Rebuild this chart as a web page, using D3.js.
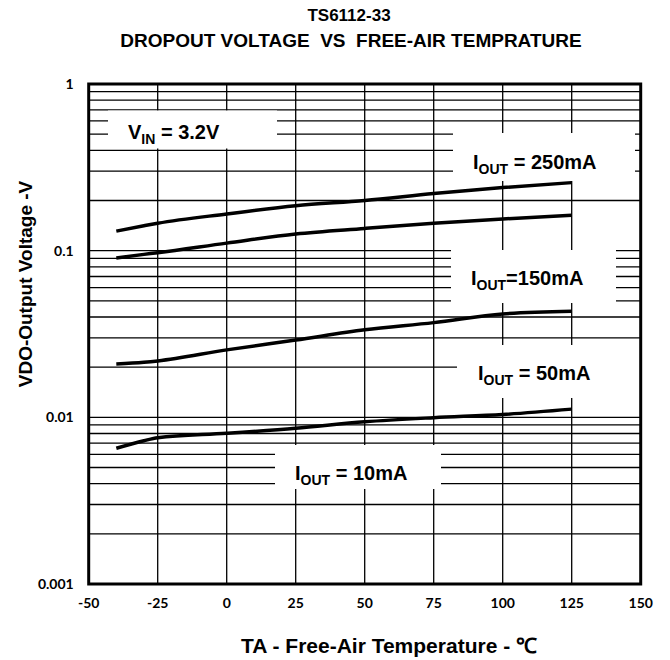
<!DOCTYPE html>
<html>
<head>
<meta charset="utf-8">
<script src="https://cdn.jsdelivr.net/npm/d3@7"></script>
<style>
  body { margin: 0; background: #fff; }
  svg text { fill: #000; }
</style>
</head>
<body>
<div id="graph"></div>
<script>
const width = 670, height = 660;

// temperatures (degC)
const temps = [-40, -30, -25, 0, 25, 50, 75, 100, 125];
// dropout voltage (V) per load current
const iout250 = [0.131, 0.141, 0.146, 0.166, 0.186, 0.200, 0.220, 0.239, 0.256];
const iout150 = [0.0904, 0.095, 0.0973, 0.111, 0.126, 0.136, 0.146, 0.155, 0.163];
const iout50  = [0.0209, 0.0214, 0.0218, 0.0254, 0.0291, 0.0335, 0.0370, 0.0417, 0.0433];
const iout10  = [0.00652, 0.00724, 0.00755, 0.00802, 0.0086, 0.0094, 0.00995, 0.0104, 0.0112];

const xTicks = [-50, -25, 0, 25, 50, 75, 100, 125, 150];
const yTicks = [0.001, 0.01, 0.1, 1];
const yTickLabels = ["0.001", "0.01", "0.1", "1"];

const series = [iout250, iout150, iout50, iout10];

const margin = {left: 88.7, right: 29.3, top: 84, bottom: 76};
const pw = width - margin.left - margin.right,
      ph = height - margin.top - margin.bottom;

const x = d3.scaleLinear().domain([-50, 150]).range([0, pw]);
const y = d3.scaleLog().domain([0.001, 1]).range([ph, 0]);

const svg = d3.select("#graph")
  .append("svg")
  .attr("width", width)
  .attr("height", height);

const g = svg.append("g")
  .attr("transform", `translate(${margin.left},${margin.top})`);

// grid
const minor = [];
[0.001, 0.01, 0.1].forEach(d => { for (let k = 2; k <= 9; k++) minor.push(d * k); });
g.append("g").selectAll("line")
  .data(minor.concat([0.01, 0.1]))
  .join("line")
    .attr("x1", 0).attr("x2", pw)
    .attr("y1", d => y(d)).attr("y2", d => y(d))
    .attr("stroke", "#000").attr("stroke-width", 1.3);
g.append("g").selectAll("line")
  .data(xTicks.slice(1, -1))
  .join("line")
    .attr("x1", d => x(d)).attr("x2", d => x(d))
    .attr("y1", 0).attr("y2", ph)
    .attr("stroke", "#000").attr("stroke-width", 1.3);

// label boxes (pixel layout inside the plot)
const labels = [
  {box: [19.3, 26.5, 169, 38], tx: 39.3, ty: 55, main: "V", sub: "IN", rest: " = 3.2V"},
  {box: [364.3, 49, 182, 48], tx: 384.3, ty: 85, main: "I", sub: "OUT", rest: " = 250mA"},
  {box: [362.3, 166, 165, 53], tx: 382.3, ty: 201, main: "I", sub: "OUT", rest: "=150mA"},
  {box: [368.3, 261, 183.7, 53], tx: 389.3, ty: 296, main: "I", sub: "OUT", rest: " = 50mA"},
  {box: [186.3, 361, 166, 44], tx: 206.3, ty: 396, main: "I", sub: "OUT", rest: " = 10mA"}
];
const lab = g.append("g").selectAll("g").data(labels).join("g");
lab.append("rect")
  .attr("x", d => d.box[0]).attr("y", d => d.box[1])
  .attr("width", d => d.box[2]).attr("height", d => d.box[3])
  .attr("fill", "#fff");
const lt = lab.append("text")
  .attr("x", d => d.tx).attr("y", d => d.ty)
  .style("font", "bold 20px 'Liberation Sans', Arial, sans-serif");
lt.append("tspan").text(d => d.main);
lt.append("tspan").attr("dy", 5).style("font-size", "14px").text(d => d.sub);
lt.append("tspan").attr("dy", -5).text(d => d.rest);

// curves
const line = d3.line()
  .x((d, i) => x(temps[i]))
  .y(d => y(d))
  .curve(d3.curveMonotoneX);
g.append("g").selectAll("path")
  .data(series)
  .join("path")
    .attr("d", line)
    .attr("fill", "none")
    .attr("stroke", "#000")
    .attr("stroke-width", 3.5);

// frame
g.append("rect")
  .attr("width", pw).attr("height", ph)
  .attr("fill", "none").attr("stroke", "#000").attr("stroke-width", 3);

// tick labels
const tickFont = "bold 14px Lato, 'Open Sans', sans-serif";
g.append("g").selectAll("text")
  .data(xTicks)
  .join("text")
    .attr("x", d => x(d)).attr("y", ph + 24)
    .attr("text-anchor", "middle")
    .style("font", tickFont)
    .text(d => d);
g.append("g").selectAll("text")
  .data(yTicks)
  .join("text")
    .attr("x", -15).attr("y", d => y(d))
    .attr("dy", "0.35em")
    .attr("text-anchor", "end")
    .style("font", tickFont)
    .text((d, i) => yTickLabels[i]);

// titles
svg.append("text")
  .attr("x", 349).attr("y", 21)
  .attr("text-anchor", "middle")
  .style("font", "bold 17px 'Liberation Sans', Arial, sans-serif")
  .text("TS6112-33");
svg.append("text")
  .attr("x", 351).attr("y", 47)
  .attr("text-anchor", "middle")
  .attr("xml:space", "preserve")
  .style("font", "bold 19px 'Liberation Sans', Arial, sans-serif")
  .style("white-space", "pre")
  .text("DROPOUT VOLTAGE  VS  FREE-AIR TEMPRATURE");

svg.append("text")
  .attr("transform", `translate(32,284) rotate(-90)`)
  .attr("text-anchor", "middle")
  .style("font", "bold 19px 'Liberation Sans', Arial, sans-serif")
  .text("VDO-Output Voltage -V");

svg.append("text")
  .attr("x", 389).attr("y", 653)
  .attr("text-anchor", "middle")
  .style("font", "bold 21px 'Liberation Sans', Arial, sans-serif")
  .text("TA - Free-Air Temperature - ℃");
</script>
</body>
</html>
